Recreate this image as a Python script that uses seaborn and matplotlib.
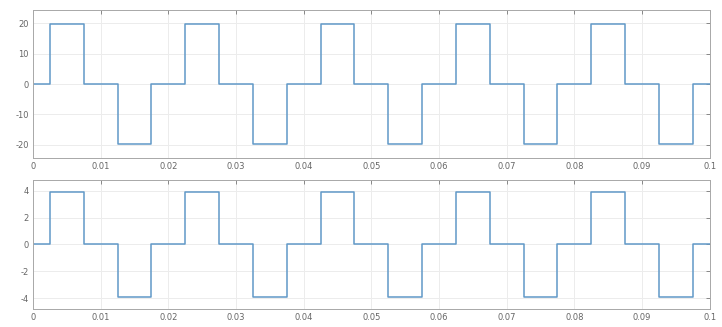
import matplotlib
matplotlib.use("Agg")
import matplotlib.pyplot as plt
import seaborn as sns
import pandas as pd

# step breakpoints (s) and levels (steps-post)
t_steps = [0, 0.0025, 0.0075, 0.0125, 0.0175,
           0.0225, 0.0275, 0.0325, 0.0375,
           0.0425, 0.0475, 0.0525, 0.0575,
           0.0625, 0.0675, 0.0725, 0.0775,
           0.0825, 0.0875, 0.0925, 0.0975, 0.1]
top_levels = [0, 19.6, 0, -19.6, 0,
              19.6, 0, -19.6, 0,
              19.6, 0, -19.6, 0,
              19.6, 0, -19.6, 0,
              19.6, 0, -19.6, 0, 0]
bottom_levels = [0, 3.9, 0, -3.9, 0,
                 3.9, 0, -3.9, 0,
                 3.9, 0, -3.9, 0,
                 3.9, 0, -3.9, 0,
                 3.9, 0, -3.9, 0, 0]

x_ticks = [0, 0.01, 0.02, 0.03, 0.04, 0.05, 0.06, 0.07, 0.08, 0.09, 0.1]
x_ticklabels = ["0", "0.01", "0.02", "0.03", "0.04", "0.05", "0.06", "0.07", "0.08", "0.09", "0.1"]
top_yticks = [-20, -10, 0, 10, 20]
bottom_yticks = [-4, -2, 0, 2, 4]

sns.set_theme(style="white")
plt.rcParams['font.family'] = ['DejaVu Sans']

fig = plt.figure(figsize=(7.22, 3.27), dpi=100)
ax1 = fig.add_axes([0.0457, 0.517, 0.9373, 0.452])
ax2 = fig.add_axes([0.0457, 0.055, 0.9373, 0.395])

line_color = '#6199c8'
for ax, levels, yt, lim in [(ax1, top_levels, top_yticks, 24.3),
                             (ax2, bottom_levels, bottom_yticks, 4.8)]:
    df = pd.DataFrame({"t": t_steps, "v": levels})
    sns.lineplot(data=df, x="t", y="v", ax=ax, color=line_color,
                 drawstyle="steps-post", linewidth=1.1)
    ax.set_xlim(0, 0.1)
    ax.set_ylim(-lim, lim)
    ax.set_xticks(x_ticks)
    ax.set_xticklabels(x_ticklabels)
    ax.set_yticks(yt)
    ax.set_yticklabels([str(v) for v in yt])
    ax.set_xlabel("")
    ax.set_ylabel("")
    ax.grid(True, color='#ececec', linewidth=0.7)
    ax.tick_params(direction='in', length=3, width=0.6, colors='#777777',
                   labelsize=6, top=True, right=True, pad=3)
    ax.tick_params(axis='both', labelcolor='#666666')
    for s in ax.spines.values():
        s.set_color('#a8a8a8')
        s.set_linewidth(0.7)

fig.savefig("out.png", dpi=100, facecolor='white')
